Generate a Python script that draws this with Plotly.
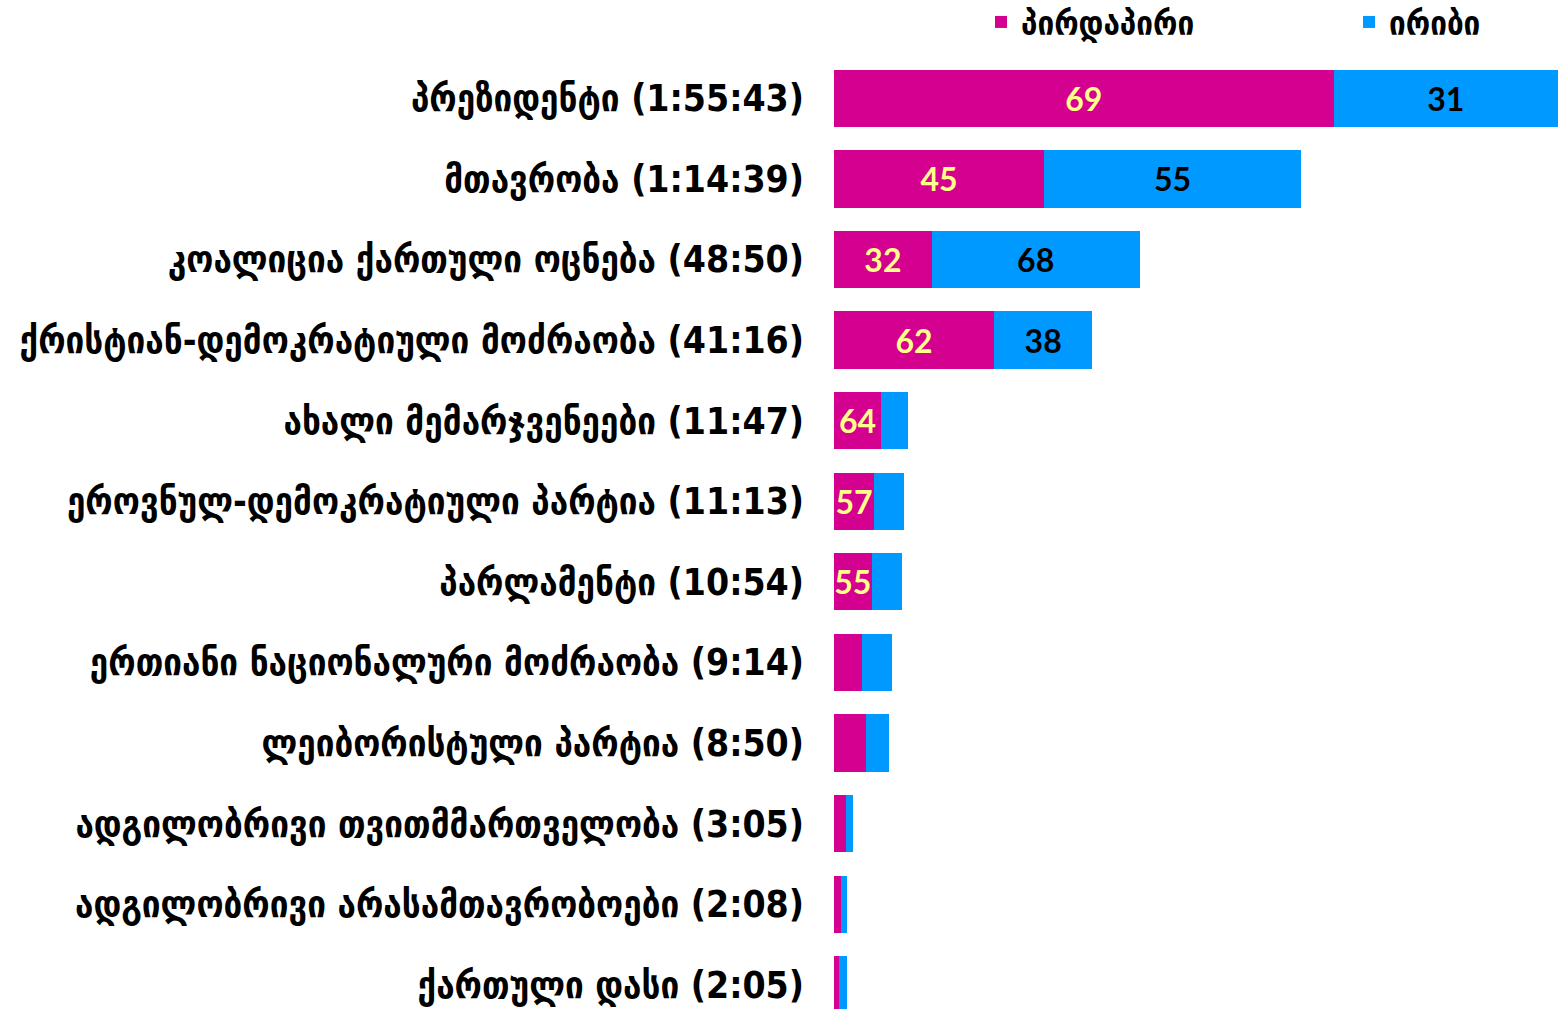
import plotly.graph_objects as go

# Data
names = [
    "პრეზიდენტი",
    "მთავრობა",
    "კოალიცია ქართული ოცნება",
    "ქრისტიან-დემოკრატიული მოძრაობა",
    "ახალი მემარჯვენეები",
    "ეროვნულ-დემოკრატიული პარტია",
    "პარლამენტი",
    "ერთიანი ნაციონალური მოძრაობა",
    "ლეიბორისტული პარტია",
    "ადგილობრივი თვითმმართველობა",
    "ადგილობრივი არასამთავრობოები",
    "ქართული დასი",
]
times = ["1:55:43", "1:14:39", "48:50", "41:16", "11:47", "11:13",
         "10:54", "9:14", "8:50", "3:05", "2:08", "2:05"]
direct_pct = [69, 45, 32, 62, 64, 57, 55, 48, 58, 63, 53, 35]
indirect_pct = [31, 55, 68, 38, 36, 43, 45, 52, 42, 37, 47, 65]
direct_labels = ["69", "45", "32", "62", "64", "57", "55", "", "", "", "", ""]
indirect_labels = ["31", "55", "68", "38", "", "", "", "", "", "", "", ""]
series_names = ["პირდაპირი", "ირიბი"]


def to_seconds(t):
    s = 0
    for p in t.split(":"):
        s = s * 60 + int(p)
    return s


totals = [to_seconds(t) for t in times]
cats = [f"{n} ({t})" for n, t in zip(names, times)]
direct_vals = [tot * p / 100 for tot, p in zip(totals, direct_pct)]
indirect_vals = [tot * p / 100 for tot, p in zip(totals, indirect_pct)]

MAGENTA = "#D4008F"
BLUE = "#0099FF"
YELLOW = "#FFFF8A"
GEO_FONT = "DejaVu Sans Condensed"
NUM_FONT = "Lato"

fig = go.Figure()
fig.add_trace(go.Bar(
    y=cats, x=direct_vals, orientation="h", name=series_names[0],
    marker=dict(color=MAGENTA, line=dict(width=0)),
    text=direct_labels, textposition="inside", insidetextanchor="middle",
    textfont=dict(family=NUM_FONT, size=32, color=YELLOW, weight="bold"),
    constraintext="none", legend="legend",
))
fig.add_trace(go.Bar(
    y=cats, x=indirect_vals, orientation="h", name=series_names[1],
    marker=dict(color=BLUE, line=dict(width=0)),
    text=indirect_labels, textposition="inside", insidetextanchor="middle",
    textfont=dict(family=NUM_FONT, size=32, color="black", weight="bold"),
    constraintext="none", legend="legend2",
))

legend_common = dict(
    orientation="h", xanchor="left", yanchor="middle",
    xref="container", yref="container", y=1 - 22 / 1009,
    font=dict(family=GEO_FONT, size=33, color="black", weight="bold"),
    itemwidth=30, bgcolor="rgba(0,0,0,0)",
)

fig.update_layout(
    width=1558, height=1009,
    barmode="stack", bargap=0.29,
    plot_bgcolor="white", paper_bgcolor="white",
    margin=dict(l=834, r=0, t=58, b=0, autoexpand=False),
    showlegend=True,
    legend=dict(x=981 / 1558, **legend_common),
    legend2=dict(x=1349 / 1558, **legend_common),
    xaxis=dict(range=[0, totals[0]], visible=False, fixedrange=True),
    yaxis=dict(
        categoryorder="array", categoryarray=cats,
        range=[11.3, -0.5], showgrid=False, showline=False, ticks="",
        ticklabelstandoff=29, fixedrange=True,
        tickfont=dict(family=GEO_FONT, size=37, color="black", weight="bold"),
    ),
)

fig.write_html(
    "out.html",
    config={"displayModeBar": False},
    post_script="document.body.style.margin='0';",
)
